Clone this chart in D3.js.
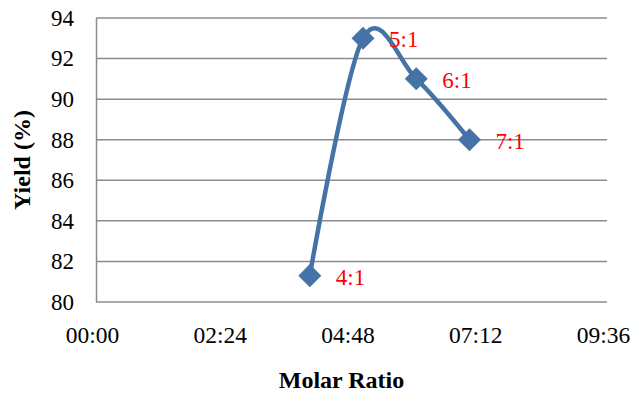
<!DOCTYPE html>
<html>
<head>
<meta charset="utf-8">
<script src="https://cdn.jsdelivr.net/npm/d3@7"></script>
<style>
body { margin: 0; background: #fff; }
svg text { font-family: "Liberation Serif", "Times New Roman", serif; }
</style>
</head>
<body>
<svg></svg>
<script>
// molar ratios were typed as times in the original sheet (4:1 -> 04:01)
var ratioLabels = ["4:1", "5:1", "6:1", "7:1"];
var ratioHours = [4 + 1 / 60, 5 + 1 / 60, 6 + 1 / 60, 7 + 1 / 60];
var yieldValues = [81.3, 93, 91, 88];
var xTickHours = [0, 2.4, 4.8, 7.2, 9.6];
var xTickLabels = ["00:00", "02:24", "04:48", "07:12", "09:36"];
var yTicks = [80, 82, 84, 86, 88, 90, 92, 94];

var width = 630, height = 393;
var margin = { top: 18, right: 23, bottom: 91, left: 96 };

var svg = d3.select("svg")
    .attr("width", width)
    .attr("height", height);

var x = d3.scaleLinear()
    .domain([0, 9.6])
    .range([margin.left, width - margin.right]);

var y = d3.scaleLinear()
    .domain([80, 94])
    .range([height - margin.bottom, margin.top]);

var data = ratioHours.map(function(h, i) {
    return { h: h, v: yieldValues[i], label: ratioLabels[i] };
});

// gridlines
svg.append("g")
    .selectAll("line")
    .data(yTicks)
    .enter().append("line")
    .attr("x1", x(0))
    .attr("x2", x(9.6))
    .attr("y1", function(d) { return y(d); })
    .attr("y2", function(d) { return y(d); })
    .style("stroke", "#8c8c8c")
    .style("stroke-width", 1.5);

// y axis
var yAxis = svg.append("g")
    .attr("transform", "translate(" + x(0) + ",0)")
    .call(d3.axisLeft(y).tickValues(yTicks).tickSize(0).tickPadding(22));
yAxis.select(".domain").style("stroke", "#8c8c8c").style("stroke-width", 1.5);
yAxis.selectAll("text")
    .style("font-size", "23px")
    .style("fill", "#000");

// x axis
var xAxis = svg.append("g")
    .attr("transform", "translate(0," + y(80) + ")")
    .call(d3.axisBottom(x).tickValues(xTickHours).tickSize(0).tickPadding(24)
        .tickFormat(function(d, i) { return xTickLabels[i]; }));
xAxis.select(".domain").remove();
xAxis.selectAll("text")
    .attr("dx", -4)
    .style("font-size", "23.5px")
    .style("fill", "#000");

svg.append("text")
    .attr("transform", "translate(30," + ((margin.top + height - margin.bottom) / 2) + ") rotate(-90)")
    .style("text-anchor", "middle")
    .style("font-size", "24px")
    .style("font-weight", "bold")
    .text("Yield (%)");

svg.append("text")
    .attr("x", (x(0) + x(9.6)) / 2 - 10)
    .attr("y", 388)
    .style("text-anchor", "middle")
    .style("font-size", "24px")
    .style("font-weight", "bold")
    .text("Molar Ratio");

// smoothed line like the spreadsheet
var line = d3.line()
    .x(function(d) { return x(d.h); })
    .y(function(d) { return y(d.v); })
    .curve(d3.curveCardinal.tension(0));

svg.append("path")
    .datum(data)
    .attr("d", line)
    .style("fill", "none")
    .style("stroke", "#4572a7")
    .style("stroke-width", 4.5);

svg.selectAll(".marker")
    .data(data)
    .enter().append("path")
    .attr("class", "marker")
    .attr("d", d3.symbol().type(d3.symbolSquare).size(265))
    .attr("transform", function(d) {
        return "translate(" + x(d.h) + "," + y(d.v) + ") rotate(45)";
    })
    .style("fill", "#4572a7");

svg.selectAll(".lbl")
    .data(data)
    .enter().append("text")
    .attr("class", "lbl")
    .attr("x", function(d) { return x(d.h) + 26; })
    .attr("y", function(d) { return y(d.v) + 9; })
    .style("font-size", "23px")
    .style("fill", "#ff0000")
    .text(function(d) { return d.label; });
</script>
</body>
</html>
